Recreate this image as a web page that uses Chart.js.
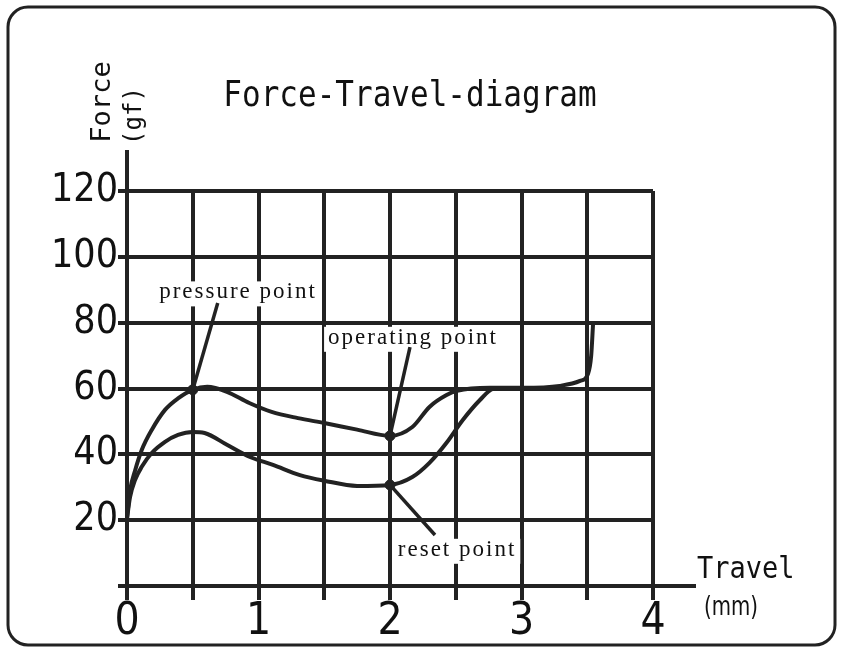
<!DOCTYPE html>
<html lang="en">
<head>
<meta charset="UTF-8">
<title>Force-Travel-diagram</title>
<script src="https://cdn.jsdelivr.net/npm/chart.js@4.4.1/dist/chart.umd.min.js"></script>
<style>
    html, body { margin: 0; padding: 0; background: #fff; }
    .wrap { position: relative; width: 847px; height: 653px; }
</style>
</head>
<body>
<div class="wrap"><canvas id="forceChart" width="847" height="653"></canvas></div>
<script>
// press stroke (upper curve): travel in mm, force in gf
const pressTravel = [0, 0.023, 0.061, 0.112, 0.188, 0.289, 0.388, 0.5, 0.61, 0.76, 0.93, 1.1, 1.3, 1.5, 1.75, 2.0, 2.17, 2.3, 2.43, 2.51, 2.76, 3.01, 3.29, 3.445, 3.506, 3.53, 3.544];
const pressForce  = [20.5, 29, 35, 41.3, 47.4, 53.5, 57, 59.6, 60.5, 59, 55.6, 52.9, 51, 49.5, 47.5, 45.6, 48.3, 54.4, 58, 59.3, 60.2, 60.2, 60.8, 62.3, 64.5, 70, 79.5];

// release stroke (lower curve)
const releaseTravel = [0, 0.023, 0.061, 0.112, 0.188, 0.289, 0.388, 0.5, 0.59, 0.76, 0.935, 1.11, 1.315, 1.5, 1.75, 2.0, 2.17, 2.3, 2.43, 2.555, 2.684, 2.783, 2.85];
const releaseForce  = [20.5, 27, 32.2, 36.2, 40.4, 43.8, 45.9, 46.8, 46.5, 42.9, 39.2, 36.8, 33.7, 32, 30.4, 30.7, 33.1, 37.4, 43.5, 50.5, 56.5, 59.9, 60.1];

// axis tick labels
const xTicks = [0, 1, 2, 3, 4];
const yTicks = [20, 40, 60, 80, 100, 120];

// marked points on the curves
const pointNames  = ['pressure point', 'operating point', 'reset point'];
const pointTravel = [0.5, 2, 2];
const pointForce  = [59.6, 45.6, 30.7];

// where the callout text sits and where its leader line stops (data units)
const calloutAt  = [[0.844, 89.2], [2.175, 75.4], [2.51, 11]];
const leaderEnd  = [[0.69, 86], [2.152, 72.6], [2.342, 15.5]];

const INK = '#222';

const toPts = (xs, ys) => xs.map((x, i) => ({ x: x, y: ys[i] }));

// draws text stretched vertically, the source lettering is tall and narrow
function tallText(ctx, text, x, y, stretch) {
    ctx.save();
    ctx.translate(x, y);
    ctx.scale(1, stretch);
    ctx.fillText(text, 0, 0);
    ctx.restore();
}

const decorations = {
    id: 'decorations',
    afterDatasetsDraw(chart) {
        const ctx = chart.ctx;
        const xs = chart.scales.x, ys = chart.scales.y;
        const area = chart.chartArea;
        ctx.save();

        // outer rounded frame
        ctx.strokeStyle = INK;
        ctx.lineWidth = 3;
        ctx.beginPath();
        ctx.roundRect(8, 7, 827, 638, 20);
        ctx.stroke();

        // axis lines running past the grid
        ctx.lineWidth = 4;
        ctx.beginPath();
        ctx.moveTo(area.left, area.top);
        ctx.lineTo(area.left, 150);
        ctx.moveTo(area.right, area.bottom);
        ctx.lineTo(696, area.bottom);
        ctx.stroke();

        // title and axis names
        ctx.fillStyle = '#111';
        ctx.textBaseline = 'alphabetic';
        ctx.textAlign = 'center';
        ctx.font = '31px "DejaVu Sans Mono", monospace';
        tallText(ctx, 'Force-Travel-diagram', 410, 106, 1.17);

        ctx.font = '27px "DejaVu Sans Mono", monospace';
        ctx.textAlign = 'left';
        tallText(ctx, 'Travel', 697, 578, 1.12);
        ctx.font = '22px "DejaVu Sans Condensed", sans-serif';
        tallText(ctx, '(mm)', 704, 615, 1.2);

        ctx.save();
        ctx.translate(110, 102);
        ctx.rotate(-Math.PI / 2);
        ctx.textAlign = 'center';
        ctx.font = '27px "DejaVu Sans Mono", monospace';
        ctx.fillText('Force', 0, 0);
        ctx.restore();
        ctx.save();
        ctx.translate(141, 116);
        ctx.rotate(-Math.PI / 2);
        ctx.textAlign = 'center';
        ctx.font = '24px "DejaVu Sans Mono", monospace';
        ctx.fillText('(gf)', 0, 0);
        ctx.restore();

        // callouts: white patch breaks the grid behind the text
        ctx.font = '23px "Liberation Serif", "DejaVu Serif", serif';
        ctx.textAlign = 'center';
        ctx.textBaseline = 'middle';
        pointNames.forEach((name, i) => {
            const cx = xs.getPixelForValue(calloutAt[i][0]);
            const cy = ys.getPixelForValue(calloutAt[i][1]);
            ctx.letterSpacing = '2px';
            const w = ctx.measureText(name).width;
            ctx.fillStyle = '#fff';
            ctx.fillRect(cx - w / 2 - 4, cy - 11, w + 8, 25);
            ctx.fillStyle = '#111';
            ctx.fillText(name, cx, cy);
            ctx.letterSpacing = '0px';

            ctx.strokeStyle = INK;
            ctx.lineWidth = 3.5;
            ctx.beginPath();
            ctx.moveTo(xs.getPixelForValue(pointTravel[i]), ys.getPixelForValue(pointForce[i]));
            ctx.lineTo(xs.getPixelForValue(leaderEnd[i][0]), ys.getPixelForValue(leaderEnd[i][1]));
            ctx.stroke();
        });

        ctx.restore();
    }
};

new Chart(document.getElementById('forceChart'), {
    type: 'line',
    data: {
        datasets: [
            {
                data: toPts(pressTravel, pressForce),
                borderColor: INK, borderWidth: 4,
                pointRadius: 0, cubicInterpolationMode: 'monotone', fill: false
            },
            {
                data: toPts(releaseTravel, releaseForce),
                borderColor: INK, borderWidth: 4,
                pointRadius: 0, cubicInterpolationMode: 'monotone', fill: false
            },
            {
                type: 'scatter',
                data: toPts(pointTravel, pointForce),
                showLine: false,
                pointRadius: 5, pointBackgroundColor: INK, pointBorderColor: INK
            }
        ]
    },
    options: {
        responsive: false,
        animation: false,
        devicePixelRatio: 1,
        layout: { padding: { left: 0, top: 191, right: 194, bottom: 0 } },
        plugins: { legend: { display: false }, tooltip: { enabled: false } },
        scales: {
            x: {
                type: 'linear', min: 0, max: 4,
                afterFit: s => { s.height = 67; },
                ticks: {
                    stepSize: 0.5, autoSkip: false, maxRotation: 0, padding: -4,
                    color: '#111',
                    font: { family: '"DejaVu Sans Condensed", sans-serif', size: 44 },
                    callback: v => xTicks.includes(v) ? String(v) : ''
                },
                grid: { color: INK, lineWidth: 4, tickLength: 14 },
                border: { color: INK, width: 4 }
            },
            y: {
                min: 0, max: 120,
                afterFit: s => { s.width = 127; },
                ticks: {
                    stepSize: 20, padding: 0,
                    color: '#111',
                    font: { family: '"DejaVu Sans Condensed", sans-serif', size: 39 },
                    callback: v => yTicks.includes(v) ? String(v) : ''
                },
                grid: { color: INK, lineWidth: 4, tickLength: 9 },
                border: { color: INK, width: 4 }
            }
        }
    },
    plugins: [decorations]
});
</script>
</body>
</html>
